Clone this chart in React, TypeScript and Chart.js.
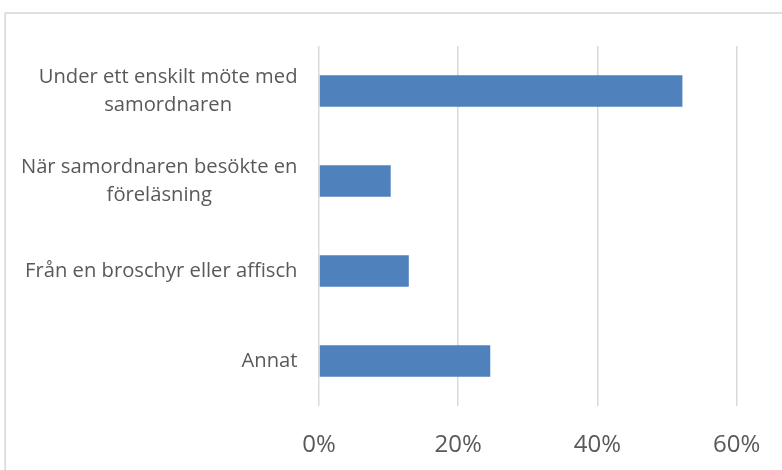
import React, { useEffect, useRef } from "react";
import { Chart, registerables } from "chart.js";

Chart.register(...registerables);

const categories: string[][] = [
  ["Under ett enskilt möte med", "samordnaren"],
  ["När samordnaren besökte en", "föreläsning"],
  ["Från en broschyr eller affisch"],
  ["Annat"],
];
const values: number[] = [52.2, 10.3, 12.9, 24.6];
const xTicks: number[] = [0, 20, 40, 60];

const CAT_FONT = '20.2px "Open Sans"';
const CAT_COLOR = "#595959";

const framePlugin = {
  id: "frame",
  beforeDraw(chart: any) {
    const ctx = chart.ctx;
    ctx.save();
    ctx.fillStyle = "#ffffff";
    ctx.fillRect(0, 0, chart.width, chart.height);
    ctx.strokeStyle = "#d9d9d9";
    ctx.lineWidth = 1.6;
    ctx.strokeRect(5.2, 13, 900, 600);
    ctx.restore();
  },
};

const catLabelPlugin = {
  id: "catLabels",
  afterDraw(chart: any) {
    const ctx = chart.ctx;
    const yScale = chart.scales.y;
    const rightX = chart.chartArea.left - 21.5;
    const lineH = 28;
    ctx.save();
    ctx.font = CAT_FONT;
    ctx.fillStyle = CAT_COLOR;
    ctx.textAlign = "center";
    ctx.textBaseline = "middle";
    categories.forEach((lines, i) => {
      const yc = yScale.getPixelForValue(i);
      const w = Math.max(...lines.map((l) => ctx.measureText(l).width));
      const cx = rightX - w / 2;
      lines.forEach((l, j) => {
        ctx.fillText(l, cx, yc + (j - (lines.length - 1) / 2) * lineH);
      });
    });
    ctx.restore();
  },
};

export default function App() {
  const ref = useRef<HTMLCanvasElement | null>(null);
  useEffect(() => {
    if (!ref.current) return;
    const chart = new Chart(ref.current, {
      type: "bar",
      data: {
        labels: categories.map((c) => c.join(" ")),
        datasets: [
          {
            data: values,
            backgroundColor: "#4f81bd",
            borderWidth: 0,
            categoryPercentage: 1,
            barPercentage: 0.352,
          },
        ],
      },
      options: {
        indexAxis: "y",
        animation: false,
        responsive: false,
        layout: { padding: { top: 46, right: 45.3, left: 0, bottom: 0 } },
        plugins: { legend: { display: false }, tooltip: { enabled: false } },
        scales: {
          x: {
            min: 0,
            max: 60,
            afterBuildTicks: (scale: any) => {
              scale.ticks = xTicks.map((v) => ({ value: v }));
            },
            afterFit: (scale: any) => {
              scale.height = 64;
              scale.paddingLeft = 0;
              scale.paddingRight = 0;
            },
            grid: { color: "#d9d9d9", lineWidth: 1.5, drawTicks: false },
            border: { display: false },
            ticks: {
              padding: 25,
              maxRotation: 0,
              minRotation: 0,
              autoSkip: false,
              color: "#595959",
              font: { family: "Open Sans", size: 24 },
              callback: (v: any) => v + "%",
            },
          },
          y: {
            afterFit: (scale: any) => {
              scale.width = 319;
            },
            grid: { display: false, drawTicks: false },
            border: { display: false },
            ticks: { display: false },
          },
        },
      },
      plugins: [framePlugin, catLabelPlugin],
    });
    return () => chart.destroy();
  }, []);
  return (
    <div style={{ position: "fixed", left: 0, top: 0, width: 782, height: 470, background: "#fff" }}>
      <canvas ref={ref} width={782} height={470} style={{ width: 782, height: 470, display: "block" }} />
    </div>
  );
}
